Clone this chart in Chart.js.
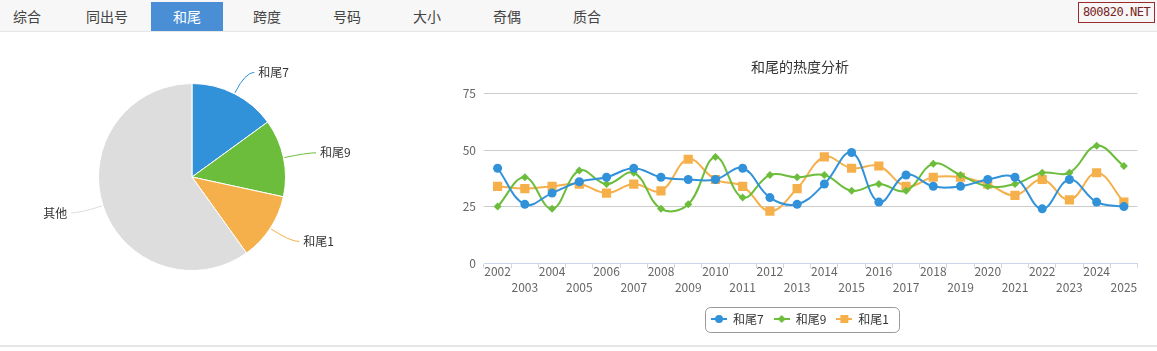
<!DOCTYPE html>
<html>
<head>
<meta charset="utf-8">
<script src="https://cdn.jsdelivr.net/npm/chart.js@4/dist/chart.umd.min.js"></script>
<style>
  html, body { margin: 0; padding: 0; background: #fff; }
  body { width: 1157px; height: 351px; position: relative; overflow: hidden;
         font-family: "Noto Sans CJK SC", "Noto Sans", sans-serif; }
  .tabs { position: absolute; left: 0; top: 0; width: 1157px; height: 31px;
          background: #f7f7f7; border-bottom: 1px solid #e6e6e6; }
  .tab { position: absolute; top: 2px; height: 29px; line-height: 29px; width: 72px;
         text-align: center; font-size: 14px; color: #444; }
  .tab.on { background: #4a8fd6; color: #fff; }
  .mark { position: absolute; left: 1078px; top: 2px; width: 75px; height: 19px;
          border: 1px solid #9b2b2b; color: #7a2424; font-size: 12px; line-height: 19px;
          text-align: center; font-family: "DejaVu Sans Mono", monospace; letter-spacing: -0.5px; }
  #pieBox { position: absolute; left: 0; top: 32px; width: 400px; height: 300px; }
  #lineBox { position: absolute; left: 460px; top: 32px; width: 684px; height: 314px; }
  .foot { position: absolute; left: 0; top: 345px; width: 1157px; height: 2px; background: #e6e6e6; }
</style>
</head>
<body>
<div class="tabs">
  <div class="tab" style="left:-9px">综合</div>
  <div class="tab" style="left:71px">同出号</div>
  <div class="tab on" style="left:151px">和尾</div>
  <div class="tab" style="left:231px">跨度</div>
  <div class="tab" style="left:311px">号码</div>
  <div class="tab" style="left:391px">大小</div>
  <div class="tab" style="left:471px">奇偶</div>
  <div class="tab" style="left:551px">质合</div>
  <div class="mark">800820.NET</div>
</div>
<div id="pieBox"><canvas id="pie"></canvas></div>
<div id="lineBox"><canvas id="line"></canvas></div>
<div class="foot"></div>
<script>
// 饼图
const pieLabels = ['和尾7', '和尾9', '和尾1', '其他'];
const pieValues = [15, 13.4, 11.7, 59.9];
const pieColors = ['#3192da', '#6cbd3b', '#f5b04b', '#dddddd'];

// 折线图
const years = ['2002', '2003', '2004', '2005', '2006', '2007', '2008', '2009', '2010', '2011', '2012', '2013',
               '2014', '2015', '2016', '2017', '2018', '2019', '2020', '2021', '2022', '2023', '2024', '2025'];
const tail7 = [42, 26, 31, 36, 38, 42, 38, 37, 37, 42, 29, 26, 35, 49, 27, 39, 34, 34, 37, 38, 24, 37, 27, 25];
const tail9 = [25, 38, 24, 41, 35, 40, 24, 26, 47, 29, 39, 38, 39, 32, 35, 32, 44, 39, 34, 35, 40, 40, 52, 43];
const tail1 = [34, 33, 34, 35, 31, 35, 32, 46, 37, 34, 23, 33, 47, 42, 43, 34, 38, 38, 35, 30, 37, 28, 40, 27];
const yTicks = [0, 25, 50, 75];

const FONT = '"Noto Sans CJK SC", "Noto Sans", sans-serif';
Chart.defaults.font.family = FONT;
Chart.defaults.animation = false;

// outside labels with connector lines, placed from the arc elements
const pieLabelPlugin = {
  id: 'pieLabels',
  afterDatasetsDraw(chart) {
    const ctx = chart.ctx;
    const meta = chart.getDatasetMeta(0);
    ctx.save();
    ctx.font = '12px ' + FONT;
    ctx.textBaseline = 'middle';
    meta.data.forEach((arc, i) => {
      const a = (arc.startAngle + arc.endAngle) / 2;
      const r = arc.outerRadius;
      const cx = Math.cos(a), cy = Math.sin(a);
      const x1 = arc.x + cx * (r + 1), y1 = arc.y + cy * (r + 1);
      const x2 = arc.x + cx * (r + 24), y2 = arc.y + cy * (r + 24);
      const dir = cx >= 0 ? 1 : -1;
      const x3 = x2 + dir * 9;
      ctx.strokeStyle = pieColors[i];
      ctx.lineWidth = 1;
      ctx.beginPath();
      ctx.moveTo(x1, y1);
      ctx.quadraticCurveTo(x2, y2, x3, y2);
      ctx.stroke();
      ctx.fillStyle = '#333';
      ctx.textAlign = dir > 0 ? 'left' : 'right';
      ctx.fillText(pieLabels[i], x3 + dir * 4, y2);
    });
    ctx.restore();
  }
};

new Chart(document.getElementById('pie'), {
  type: 'pie',
  data: {
    labels: pieLabels,
    datasets: [{ data: pieValues, backgroundColor: pieColors, borderColor: '#fff', borderWidth: 1 }]
  },
  options: {
    responsive: true,
    maintainAspectRatio: false,
    layout: { padding: { left: 98, right: 114, top: 51, bottom: 61 } },
    plugins: { legend: { display: false }, tooltip: { enabled: false } }
  },
  plugins: [pieLabelPlugin]
});

// legend symbol: short line with the marker in the middle
function legendSymbol(color, style) {
  const c = document.createElement('canvas');
  c.width = 16; c.height = 10;
  const g = c.getContext('2d');
  g.strokeStyle = color; g.fillStyle = color; g.lineWidth = 2;
  g.beginPath(); g.moveTo(0, 5); g.lineTo(16, 5); g.stroke();
  g.beginPath();
  if (style === 'circle') g.arc(8, 5, 4, 0, Math.PI * 2);
  else if (style === 'diamond') { g.moveTo(8, 1); g.lineTo(12, 5); g.lineTo(8, 9); g.lineTo(4, 5); g.closePath(); }
  else g.rect(4, 1, 8, 8);
  g.fill();
  return c;
}

const legendBoxPlugin = {
  id: 'legendBox',
  afterDraw(chart) {
    const boxes = chart.legend.legendHitBoxes;
    if (!boxes || !boxes.length) return;
    const first = boxes[0], last = boxes[boxes.length - 1];
    const x = first.left - 6, w = last.left + last.width - x + 10;
    const yc = first.top + first.height / 2;
    const ctx = chart.ctx;
    ctx.save();
    ctx.strokeStyle = '#999';
    ctx.lineWidth = 1;
    ctx.beginPath();
    ctx.roundRect(Math.round(x) + 0.5, Math.round(yc - 12.5) + 0.5, Math.round(w), 25, 5);
    ctx.stroke();
    ctx.restore();
  }
};

const series = [
  { label: '和尾7', data: tail7, color: '#3192da', style: 'circle', radius: 4.5, sym: 'circle' },
  { label: '和尾9', data: tail9, color: '#6cbd3b', style: 'rectRot', radius: 4, sym: 'diamond' },
  { label: '和尾1', data: tail1, color: '#f5b04b', style: 'rect', radius: 6.5, sym: 'square' }
];

new Chart(document.getElementById('line'), {
  type: 'line',
  data: {
    labels: years,
    datasets: series.map(s => ({
      label: s.label,
      data: s.data,
      borderColor: s.color,
      backgroundColor: s.color,
      borderWidth: 2,
      pointStyle: s.style,
      pointRadius: s.radius,
      pointBorderWidth: 0,
      tension: 0.4,
      fill: false
    }))
  },
  options: {
    responsive: true,
    maintainAspectRatio: false,
    layout: { padding: { left: 0, right: 4, top: 0, bottom: 11 } },
    scales: {
      x: {
        type: 'category',
        offset: true,
        grid: { offset: true, drawOnChartArea: false, drawTicks: true, tickLength: 5, color: '#ccd6eb' },
        border: { display: true, color: '#ccd6eb' },
        ticks: {
          autoSkip: false, maxRotation: 0, minRotation: 0, padding: -5,
          color: '#666', font: { size: 12, lineHeight: 16 / 12 },
          callback: function (v, i) {
            const t = this.getLabelForValue(v);
            return i % 2 === 0 ? [t, ''] : ['', t];
          }
        },
        afterFit(scale) { scale.height = 40; }
      },
      y: {
        min: 0, max: 75,
        afterBuildTicks(scale) { scale.ticks = yTicks.map(v => ({ value: v })); },
        grid: { color: '#cccccc', drawTicks: false },
        border: { display: false },
        ticks: { padding: 8, color: '#666', font: { size: 12 } },
        afterFit(scale) { scale.width = 24; }
      }
    },
    plugins: {
      title: {
        display: true, text: '和尾的热度分析', color: '#333',
        font: { size: 14, weight: 'normal' }, padding: { top: 26, bottom: 19 }
      },
      legend: {
        position: 'bottom',
        labels: {
          usePointStyle: true, pointStyleWidth: 16, padding: 10, color: '#333',
          font: { size: 12 },
          generateLabels(chart) {
            const items = Chart.defaults.plugins.legend.labels.generateLabels(chart);
            items.forEach((it, i) => { it.pointStyle = legendSymbol(series[i].color, series[i].sym); });
            return items;
          }
        }
      },
      tooltip: { enabled: false }
    }
  },
  plugins: [legendBoxPlugin]
});
</script>
</body>
</html>
